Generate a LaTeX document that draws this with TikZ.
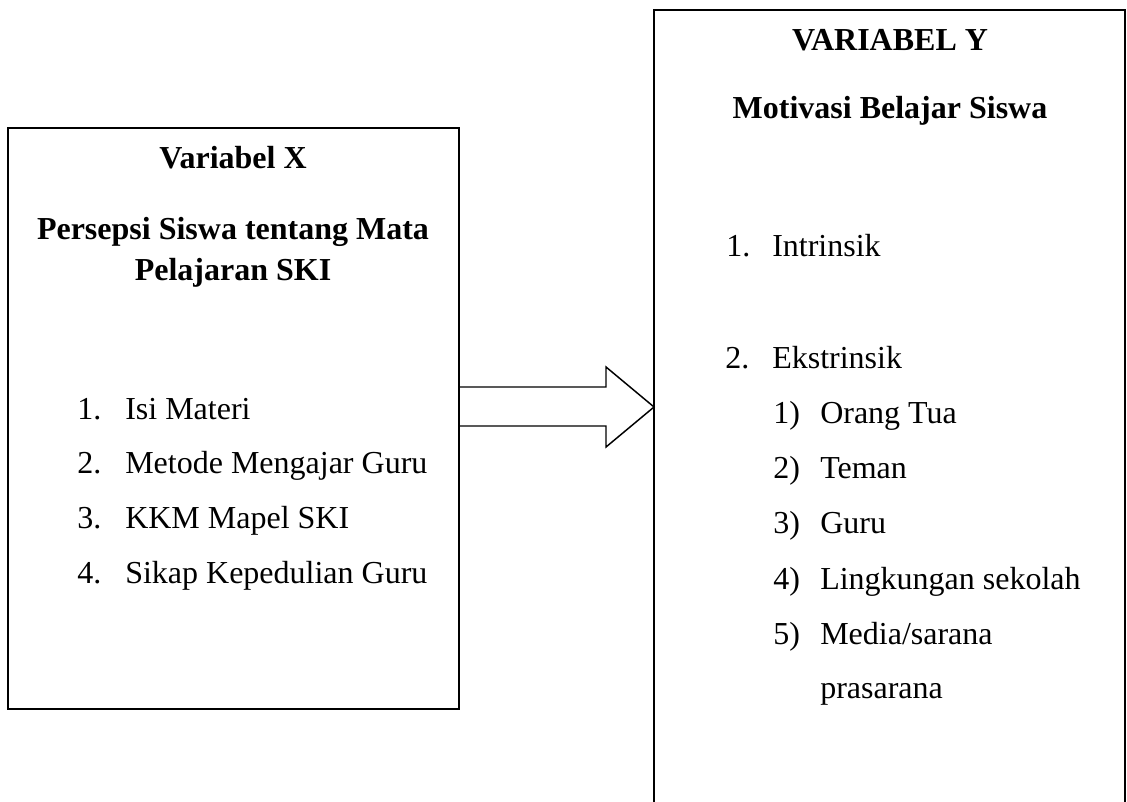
\documentclass[tikz,border=0pt]{standalone}
\usepackage{fontspec}
\setmainfont{Liberation Serif}
\begin{document}
\begin{tikzpicture}[x=0.75pt,y=-0.75pt,
  boxline/.style={draw=black,line width=1.3pt},
  arrowline/.style={draw=black,line width=1.1pt,line join=miter},
  title/.style={font=\fontsize{24}{28}\selectfont\bfseries,anchor=base,inner sep=0pt},
  item/.style={font=\fontsize{24}{28}\selectfont,anchor=base west,inner sep=0pt},
]
\useasboundingbox (0,0) rectangle (1127,802);
% left box
\coordinate (LTL) at (8,128);
\coordinate (LBR) at (459,709);
\draw[boxline] (LTL) rectangle (LBR);
% right box (open at the bottom)
\coordinate (RBL) at (654,806);
\coordinate (RTL) at (654,10);
\coordinate (RTR) at (1125,10);
\coordinate (RBR) at (1125,806);
\draw[boxline] (RBL) -- (RTL) -- (RTR) -- (RBR);
% block arrow
\coordinate (A1) at (459,387);
\coordinate (A2) at (606,387);
\coordinate (A3) at (606,367);
\coordinate (Tip) at (654,407);
\coordinate (A5) at (606,447);
\coordinate (A6) at (606,426);
\coordinate (A7) at (459,426);
\draw[arrowline] (A1) -- (A2) -- (A3) -- (Tip) -- (A5) -- (A6) -- (A7);
% left texts
\node[title] (xt1) at (233,169) {Variabel X};
\node[title] (xt2) at (233,240) {Persepsi Siswa tentang Mata};
\node[title] (xt3) at (233,280) {Pelajaran SKI};
\node[item] (xn1) at (77,419) {1.};
\node[item] (xi1) at (125,419) {Isi Materi};
\node[item] (xn2) at (77,473) {2.};
\node[item] (xi2) at (125,473) {Metode Mengajar Guru};
\node[item] (xn3) at (77,528) {3.};
\node[item] (xi3) at (125,528) {KKM Mapel SKI};
\node[item] (xn4) at (77,583) {4.};
\node[item] (xi4) at (125,583) {Sikap Kepedulian Guru};
% right texts
\node[title] (yt1) at (890,51) {VARIABEL Y};
\node[title] (yt2) at (890,119) {Motivasi Belajar Siswa};
\node[item] (yn1) at (726,257) {1.};
\node[item] (yi1) at (772,257) {Intrinsik};
\node[item] (yn2) at (725,368) {2.};
\node[item] (yi2) at (772,368) {Ekstrinsik};
\node[item] (ys1) at (773,423) {1)};
\node[item] (ye1) at (820,423) {Orang Tua};
\node[item] (ys2) at (773,478) {2)};
\node[item] (ye2) at (820,478) {Teman};
\node[item] (ys3) at (773,533) {3)};
\node[item] (ye3) at (820,533) {Guru};
\node[item] (ys4) at (773,589) {4)};
\node[item] (ye4) at (820,589) {Lingkungan sekolah};
\node[item] (ys5) at (773,644) {5)};
\node[item] (ye5) at (820,644) {Media/sarana};
\node[item] (ye5b) at (820,698) {prasarana};
\end{tikzpicture}
\end{document}
